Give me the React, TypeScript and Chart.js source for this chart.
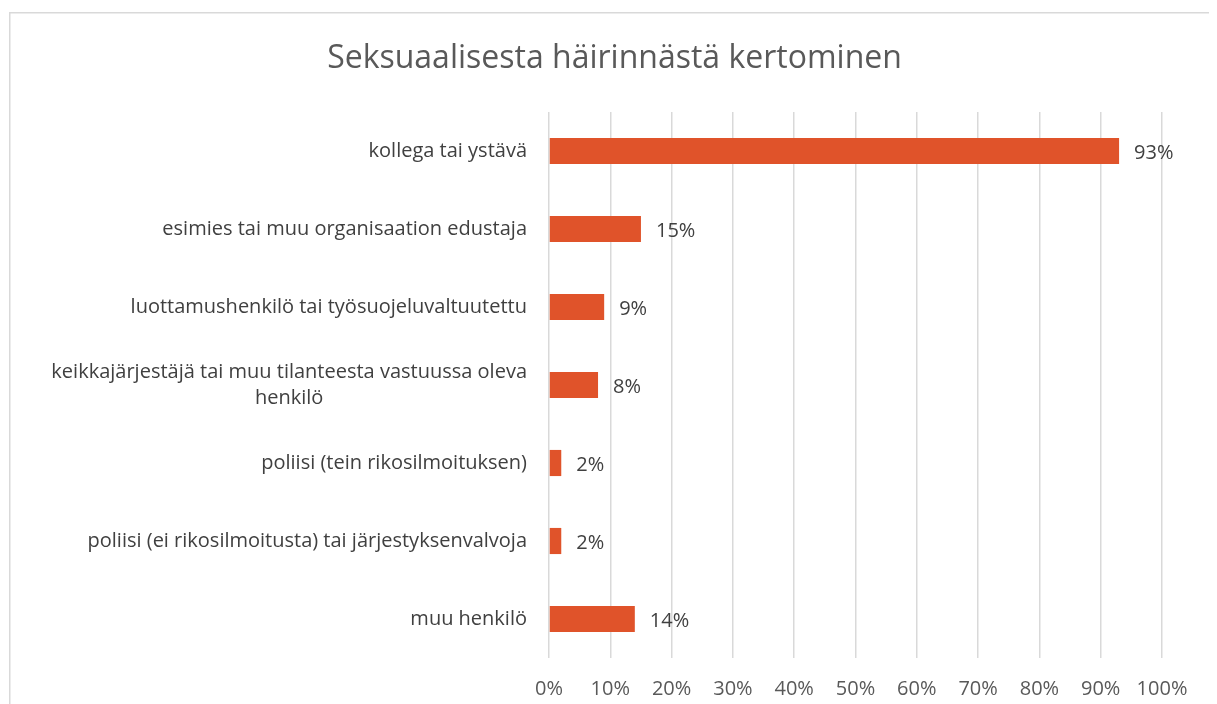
import React, { useEffect, useRef } from "react";
import { Chart, registerables } from "chart.js";

Chart.register(...registerables);

const title = "Seksuaalisesta häirinnästä kertominen";
const categories: string[][] = [
  ["kollega tai ystävä"],
  ["esimies tai muu organisaation edustaja"],
  ["luottamushenkilö tai työsuojeluvaltuutettu"],
  ["keikkajärjestäjä tai muu tilanteesta vastuussa oleva", "henkilö"],
  ["poliisi (tein rikosilmoituksen)"],
  ["poliisi (ei rikosilmoitusta) tai järjestyksenvalvoja"],
  ["muu henkilö"],
];
const values = [93, 15, 9, 8, 2, 2, 14];
const tickValues = [0, 10, 20, 30, 40, 50, 60, 70, 80, 90, 100];

const FONT = "'Open Sans', sans-serif";
const TEXT = "#595959";
const BAR = "#E0532A";

export default function App() {
  const ref = useRef<HTMLCanvasElement | null>(null);
  useEffect(() => {
    if (!ref.current) return;
    const drawPlugin = {
      id: "custom",
      beforeDraw(chart: any) {
        const ctx = chart.ctx;
        ctx.save();
        ctx.fillStyle = "#fff";
        ctx.fillRect(0, 0, chart.width, chart.height);
        ctx.strokeStyle = "#d9d9d9";
        ctx.lineWidth = 1.5;
        ctx.beginPath();
        ctx.moveTo(1.75, chart.height + 2);
        ctx.lineTo(1.75, 4.75);
        ctx.lineTo(chart.width + 2, 4.75);
        ctx.stroke();
        ctx.restore();
      },
      afterDraw(chart: any) {
        const ctx = chart.ctx;
        const x = chart.scales.x;
        const y = chart.scales.y;
        ctx.save();
        ctx.fillStyle = TEXT;
        ctx.font = `32px ${FONT}`;
        ctx.textAlign = "center";
        ctx.textBaseline = "middle";
        ctx.fillText(title, chart.width / 2 + 2, 51);
        // category labels
        ctx.font = `20px ${FONT}`;
        ctx.fillStyle = "#404040";
        const right = 519;
        categories.forEach((lines, i) => {
          const cy = y.getPixelForValue(i);
          const widths = lines.map((l) => ctx.measureText(l).width);
          const bw = Math.max(...widths);
          const lh = 26;
          const top = cy - ((lines.length - 1) * lh) / 2;
          lines.forEach((l, j) => {
            ctx.textAlign = "center";
            ctx.fillText(l, right - bw / 2, top + j * lh);
          });
        });
        // data labels
        ctx.font = `20px ${FONT}`;
        ctx.textAlign = "left";
        values.forEach((v, i) => {
          const px = x.getPixelForValue(v);
          const py = y.getPixelForValue(i);
          ctx.fillText(v + "%", px + 15, py + 2);
        });
        ctx.restore();
      },
    };
    const chart = new Chart(ref.current, {
      type: "bar",
      data: {
        labels: categories.map((c) => c.join(" ")),
        datasets: [
          {
            data: values,
            backgroundColor: BAR,
            borderWidth: 0,
            categoryPercentage: 1,
            barPercentage: 0.335,
          },
        ],
      },
      options: {
        indexAxis: "y",
        animation: false,
        responsive: false,
        maintainAspectRatio: false,
        layout: { padding: { left: 0, right: 55, top: 104, bottom: 0 } },
        plugins: {
          legend: { display: false },
          tooltip: { enabled: false },
          title: { display: false },
        },
        scales: {
          x: {
            min: 0,
            max: 100,
            afterBuildTicks(scale: any) {
              scale.ticks = tickValues.map((v) => ({ value: v }));
            },
            afterFit(scale: any) {
              scale.height = 46;
            },
            grid: { color: "#d9d9d9", lineWidth: 1.5, drawTicks: false },
            border: { display: false },
            ticks: {
              padding: 19,
              color: TEXT,
              font: { family: FONT, size: 20 },
              callback: (v: any) => v + "%",
            },
          },
          y: {
            afterFit(scale: any) {
              scale.width = 541;
            },
            grid: { display: false, drawTicks: false },
            border: { display: false },
            ticks: { display: false },
          },
        },
      },
      plugins: [drawPlugin],
    });
    return () => chart.destroy();
  }, []);
  return (
    <div style={{ width: 1209, height: 696 }}>
      <canvas ref={ref} width={1209} height={696} style={{ display: "block" }} />
    </div>
  );
}
